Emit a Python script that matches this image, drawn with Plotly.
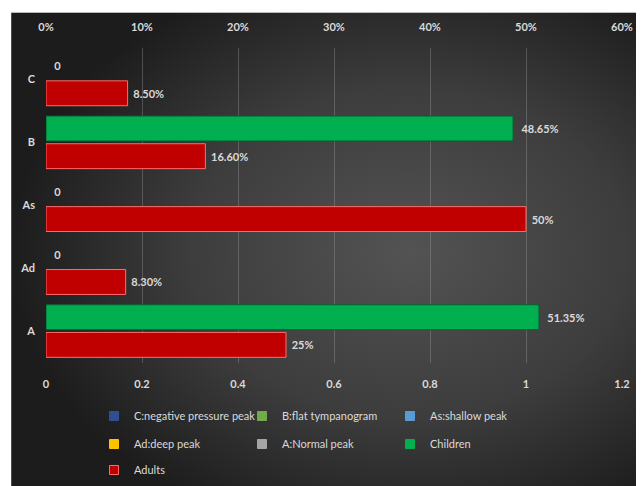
import base64
import plotly.graph_objects as go

# ---- data ----
categories = ["A", "Ad", "As", "B", "C"]          # bottom -> top
adults = [0.25, 0.083, 0.50, 0.166, 0.085]
children = [0.5135, 0.0, 0.0, 0.4865, 0.0]
adult_labels = ["25%", "8.30%", "50%", "16.60%", "8.50%"]
child_labels = ["51.35%", "0", "0", "48.65%", "0"]
legend_series = ["C:negative pressure peak", "B:flat tympanogram", "As:shallow peak",
                 "Ad:deep peak", "A:Normal peak", "Children", "Adults"]
legend_colors = ["#2f4f8f", "#70ad47", "#5b9bd5", "#ffc000", "#a5a5a5", "#00b050", "#c00000"]
legend_edges = ["#2f4f8f", "#70ad47", "#5b9bd5", "#ffc000", "#a5a5a5", "#00b050", "#ff6b6b"]
legend_rows = ["legend", "legend", "legend", "legend2", "legend2", "legend2", "legend3"]
bottom_ticks = [0, 0.2, 0.4, 0.6, 0.8, 1.0, 1.2]
bottom_ticktext = ["0", "0.2", "0.4", "0.6", "0.8", "1", "1.2"]
top_ticks = [0, 0.1, 0.2, 0.3, 0.4, 0.5, 0.6]

# page body margin shifts the figure by 8px; layout designed in figure px
W, H = 644, 486
L, R, T, B = 36, 30, 37, 131
PW, PH = W - L - R, H - T - B

def px2x(px):
    return (px - L) / PW

def py2y(py):
    return (H - B - py) / PH

font_txt = "Lato, Open Sans, sans-serif"
lbl_col = "#dadada"

fig = go.Figure()

# legend entries (no data points of their own)
for name, col, edge, lg in zip(legend_series, legend_colors, legend_edges, legend_rows):
    fig.add_trace(go.Scatter(
        x=[None], y=[None], mode="markers", name=name,
        marker=dict(symbol="square", size=9, color=col, line=dict(color=edge, width=1)),
        xaxis="x", yaxis="y", legend=lg, showlegend=True))

fig.add_trace(go.Bar(
    y=categories, x=adults, orientation="h", name="Adults", showlegend=False,
    marker=dict(color="#c00000",
                line=dict(color="#ff6b6b", width=[1 if v > 0 else 0 for v in adults])),
    text=adult_labels, texttemplate=" %{text}", textposition="outside",
    textfont=dict(color=lbl_col, size=11, family=font_txt, weight="bold"),
    cliponaxis=False, xaxis="x2", yaxis="y"))

fig.add_trace(go.Bar(
    y=categories, x=children, orientation="h", name="Children", showlegend=False,
    marker=dict(color="#00b050",
                line=dict(color="#0b5e30", width=[1 if v > 0 else 0 for v in children])),
    text=child_labels, texttemplate="  %{text}", textposition="outside",
    textfont=dict(color=lbl_col, size=11, family=font_txt, weight="bold"),
    cliponaxis=False, xaxis="x2", yaxis="y"))

svg = ("<svg xmlns='http://www.w3.org/2000/svg' width='643' height='485' "
       "viewBox='0 0 643 485' preserveAspectRatio='none'><defs>"
       "<radialGradient id='g' cx='0.62' cy='0.5' r='0.62'>"
       "<stop offset='0' stop-color='#535353'/>"
       "<stop offset='0.55' stop-color='#3d3d3d'/>"
       "<stop offset='1' stop-color='#1c1c1c'/></radialGradient></defs>"
       "<rect width='643' height='485' fill='url(#g)'/></svg>")
uri = "data:image/svg+xml;base64," + base64.b64encode(svg.encode()).decode()

tickfont = dict(color=lbl_col, size=11, family=font_txt, weight="bold")
legfont = dict(color=lbl_col, size=11, family=font_txt)

def leg(py):
    return dict(orientation="h", xref="container", yref="container",
                x=86 / W, y=1 - py / H, xanchor="left", yanchor="middle",
                entrywidth=103, font=legfont, bgcolor="rgba(0,0,0,0)",
                traceorder="normal")

fig.update_layout(
    width=W, height=H,
    margin=dict(l=L, r=R, t=T, b=B),
    paper_bgcolor="white", plot_bgcolor="rgba(0,0,0,0)",
    barmode="group", bargap=0.12, bargroupgap=0.1,
    images=[dict(source=uri, xref="paper", yref="paper",
                 x=px2x(1), y=py2y(1), sizex=(W - 1) / PW, sizey=(H - 1) / PH,
                 xanchor="left", yanchor="top", sizing="stretch", layer="below")],
    xaxis=dict(range=[0, 1.2], tickvals=bottom_ticks, ticktext=bottom_ticktext,
               showgrid=False, zeroline=False, showline=False, ticks="",
               tickfont=tickfont, ticklabelstandoff=13, fixedrange=True),
    xaxis2=dict(range=[0, 0.6], tickvals=top_ticks, tickformat=".0%", overlaying="x", side="top",
                showgrid=True, gridcolor="rgba(170,170,170,0.32)", gridwidth=1,
                zeroline=False, showline=False, ticks="",
                tickfont=tickfont, ticklabelstandoff=14, anchor="y"),
    yaxis=dict(type="category", categoryorder="array", categoryarray=categories,
               showgrid=False, zeroline=False, showline=False, ticks="",
               tickfont=tickfont, ticklabelstandoff=10),
    legend=leg(408),
    legend2=leg(436),
    legend3=leg(462),
)

fig.write_html("out.html")
